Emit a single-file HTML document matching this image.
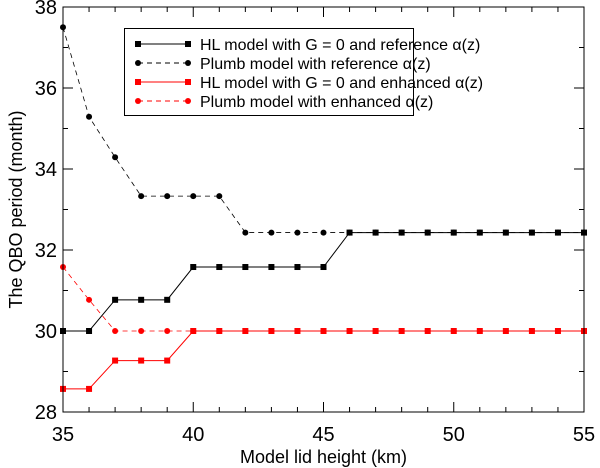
<!DOCTYPE html>
<html><head><meta charset="utf-8"><style>
body{margin:0;background:#fff}
svg{display:block;font-family:"Liberation Sans",Arial,sans-serif}
</style></head><body>
<svg id="c" width="600" height="468"></svg>
<script>
const xs=[35,36,37,38,39,40,41,42,43,44,45,46,47,48,49,50,51,52,53,54,55];
const hlRef=[30,30,30.77,30.77,30.77,31.58,31.58,31.58,31.58,31.58,31.58,32.43,32.43,32.43,32.43,32.43,32.43,32.43,32.43,32.43,32.43];
const plRef=[37.5,35.29,34.29,33.33,33.33,33.33,33.33,32.43,32.43,32.43,32.43,32.43,32.43,32.43,32.43,32.43,32.43,32.43,32.43,32.43,32.43];
const hlEnh=[28.57,28.57,29.27,29.27,29.27,30,30,30,30,30,30,30,30,30,30,30,30,30,30,30,30];
const plEnh=[31.58,30.77,30,30,30,30,30,30,30,30,30,30,30,30,30,30,30,30,30,30,30];
const xTicks=[35,40,45,50,55];
const yTicks=[28,30,32,34,36,38];
const labels=["HL model with G = 0 and reference \u03b1(z)","Plumb model with reference \u03b1(z)","HL model with G = 0 and enhanced \u03b1(z)","Plumb model with enhanced \u03b1(z)"];
const L=63,R=584,T=7,B=412;
const X=v=>L+(v-35)/20*(R-L);
const Y=v=>B-(v-28)/10*(B-T);
const svg=document.getElementById('c');
const NS='http://www.w3.org/2000/svg';
function mk(t,a,p){const e=document.createElementNS(NS,t);for(const k in a)e.setAttribute(k,a[k]);(p||svg).appendChild(e);return e;}
for(let v=35;v<=55;v++){const len=v%5==0?10:5;
 let t=mk('line',{x1:X(v),x2:X(v),y1:B,y2:B-len,stroke:'#000'});
 t=mk('line',{x1:X(v),x2:X(v),y1:T,y2:T+len,stroke:'#000'});}
for(let v=28;v<=38;v++){const len=v%2==0?10:5;
 let t=mk('line',{x1:L,x2:L+len,y1:Y(v),y2:Y(v),stroke:'#000'});
 t=mk('line',{x1:R,x2:R-len,y1:Y(v),y2:Y(v),stroke:'#000'});}
xTicks.forEach(v=>{const t=mk('text',{x:X(v),y:441,'text-anchor':'middle','font-size':20});t.textContent=v;});
yTicks.forEach(v=>{const t=mk('text',{x:57,y:Y(v)+7,'text-anchor':'end','font-size':20});t.textContent=v;});
let t=mk('text',{x:(L+R)/2,y:463,'text-anchor':'middle','font-size':18});t.textContent='Model lid height (km)';
t=mk('text',{x:0,y:0,'text-anchor':'middle','font-size':18,transform:`translate(22,${(T+B)/2}) rotate(-90)`});t.textContent='The QBO period (month)';
const series=[[hlRef,'#000',false,'sq'],[plRef,'#000',true,'ci'],[hlEnh,'#f00',false,'sq'],[plEnh,'#f00',true,'ci']];
const names=['hl-reference','plumb-reference','hl-enhanced','plumb-enhanced'];
function marker(x,y,c,m,g){if(m=='sq')return mk('rect',{x:x-3,y:y-3,width:6,height:6,fill:c},g);return mk('circle',{cx:x,cy:y,r:3,fill:c},g);}
series.forEach((s,i)=>{const g=mk('g',{});
 const p=mk('polyline',{points:xs.map((x,j)=>X(x)+','+Y(s[0][j])).join(' '),fill:'none',stroke:s[1],'stroke-width':s[2]?0.8:1,'stroke-dasharray':s[2]?'5,4':'none'},g);
 
 xs.forEach((x,j)=>{const m=marker(X(x),Y(s[0][j]),s[1],s[3],g);});
});
let f=mk('rect',{x:L,y:T,width:R-L,height:B-T,fill:'none',stroke:'#000','stroke-width':1});
const lg=mk('g',{});
mk('rect',{x:124.5,y:28.5,width:289,height:87,fill:'#fff',stroke:'#000'},lg);
series.forEach((s,i)=>{const y=44+i*19;const e=mk('g',{},lg);
 mk('line',{x1:138,x2:188,y1:y,y2:y,stroke:s[1],'stroke-dasharray':s[2]?'5,4':'none'},e);
 marker(138,y,s[1],s[3],e);marker(188,y,s[1],s[3],e);
 const tx=mk('text',{x:200,y:y+6,'font-size':16},e);tx.textContent=labels[i];});
</script>
</body></html>
